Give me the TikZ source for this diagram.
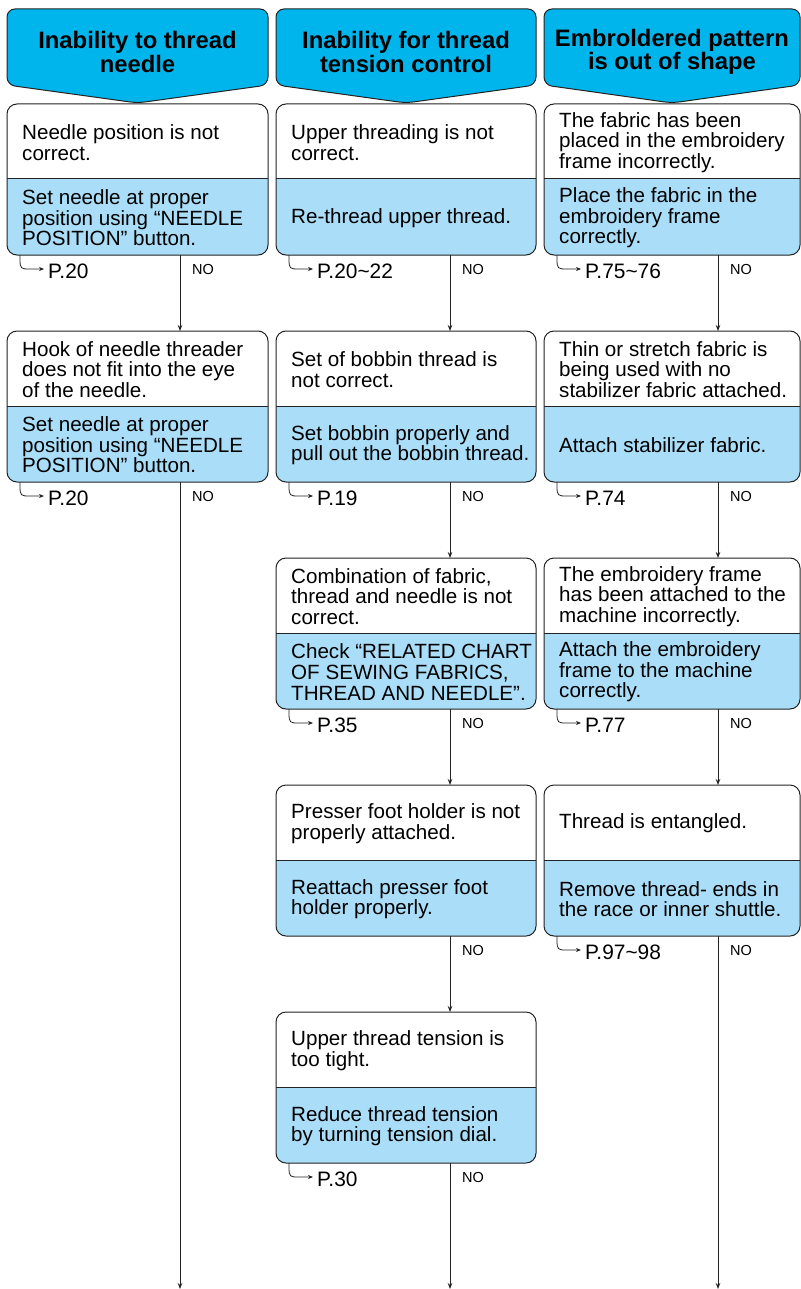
\documentclass[tikz,border=0pt]{standalone}
\usepackage{fontspec}
\setmainfont{Liberation Sans}
\usetikzlibrary{arrows.meta}
\definecolor{hdrcol}{RGB}{0,181,236}
\definecolor{solcol}{RGB}{170,222,248}
\definecolor{lncol}{RGB}{35,35,35}
\tikzset{
  boxline/.style={draw=lncol, line width=1pt},
  flowln/.style={draw=lncol, line width=0.9pt, -{Stealth[length=6pt,width=4.5pt]}},
  hookln/.style={draw=lncol, line width=0.8pt, -{Stealth[length=5pt,width=4pt]}},
  txt/.style={font=\fontsize{20.6}{20.6}\selectfont, align=left, inner sep=0pt, anchor=west},
  hdrtxt/.style={font=\bfseries\fontsize{23.8}{23.5}\selectfont, align=center, inner sep=0pt},
  ptxt/.style={font=\fontsize{20.9}{20.6}\selectfont, inner sep=0pt, anchor=west},
  notxt/.style={font=\fontsize{14.5}{14.5}\selectfont, inner sep=0pt, anchor=west},
}
% header: #1 name, #2 L, #3 R, #4 text
\newcommand\hdrbox[4]{%
  \pgfmathsetmacro\hbC{(#2+#3)/2}%
  \draw[boxline, fill=hdrcol, rounded corners=8pt] (#2,85) -- (#2,9) -- (#3,9) -- (#3,85) -- (\hbC,103) -- cycle;
  \node[hdrtxt] (#1) at (\hbC,52) {#4};
  \coordinate (#1-bot) at (\hbC,103);
}
% trouble box: #1 name, #2 L, #3 R, #4 cx, #5 T, #6 problem, #7 solution
\newcommand\trbox[7]{%
  \pgfmathsetmacro\tbD{#5+75}\pgfmathsetmacro\tbB{#5+151}%
  \pgfmathsetmacro\tbX{#2+15}%
  \pgfmathsetmacro\tbPy{#5+38.5}\pgfmathsetmacro\tbSy{#5+114}%
  \fill[white, rounded corners=10pt] (#2,#5) rectangle (#3,\tbB);
  \begin{scope}
    \clip (#2,\tbD) rectangle (#3,\tbB+2);
    \fill[solcol, rounded corners=10pt] (#2,#5) rectangle (#3,\tbB);
  \end{scope}
  \draw[boxline, rounded corners=10pt] (#2,#5) rectangle (#3,\tbB);
  \draw[boxline] (#2,\tbD) -- (#3,\tbD);
  \node[txt] (#1-p) at (\tbX,\tbPy) {#6};
  \node[txt] (#1-s) at (\tbX,\tbSy) {#7};
  \coordinate (#1-top) at (#4,#5);
  \coordinate (#1-bot) at (#4,\tbB);
  \pgfmathsetmacro\tbNx{#4+12}\pgfmathsetmacro\tbNy{\tbB+14.5}%
  \node[notxt] (#1-no) at (\tbNx,\tbNy) {NO};
}
% page reference: #1 name, #2 L, #3 B, #4 text
\newcommand\pgref[4]{%
  \pgfmathsetmacro\prX{#2+13}\pgfmathsetmacro\prY{#3+4}\pgfmathsetmacro\prYY{#3+14}%
  \pgfmathsetmacro\prXc{#2+14}%
  \pgfmathsetmacro\prXa{#2+23}\pgfmathsetmacro\prXb{#2+37}\pgfmathsetmacro\prXt{#2+41}\pgfmathsetmacro\prYt{#3+16}%
  \coordinate (#1-a) at (\prX,#3);
  \coordinate (#1-b) at (\prXb,\prYY);
  \draw[hookln] (#1-a) -- (\prX,\prY) .. controls (\prX,\prYY) and (\prXc,\prYY) .. (\prXa,\prYY) -- (#1-b);
  \node[ptxt] (#1) at (\prXt,\prYt) {#4};
}
\begin{document}
\begin{tikzpicture}[x=1pt,y=-1pt]
\useasboundingbox (0,0) rectangle (800,1289);
\fill[white] (0,0) rectangle (800,1289);

\hdrbox{h1}{7}{268}{Inability to thread\\needle}
\hdrbox{h2}{276}{536}{Inability for thread\\tension control}
\hdrbox{h3}{544}{800}{Embroldered pattern\\is out of shape}

% column 1
\trbox{a1}{7}{268}{180}{104}{Needle position is not\\correct.}{Set needle at proper\\position using “NEEDLE\\POSITION” button.}
\pgref{pa1}{7}{255}{P.20}
\trbox{a2}{7}{268}{180}{331}{Hook of needle threader\\does not fit into the eye\\of the needle.}{Set needle at proper\\position using “NEEDLE\\POSITION” button.}
\pgref{pa2}{7}{482}{P.20}

% column 2
\trbox{b1}{276}{536}{450}{104}{Upper threading is not\\correct.}{Re-thread upper thread.}
\pgref{pb1}{276}{255}{P.20\textasciitilde22}
\trbox{b2}{276}{536}{450}{331}{Set of bobbin thread is\\not correct.}{Set bobbin properly and\\pull out the bobbin thread.}
\pgref{pb2}{276}{482}{P.19}
\trbox{b3}{276}{536}{450}{558}{Combination of fabric,\\thread and needle is not\\correct.}{Check “RELATED CHART\\OF SEWING FABRICS,\\THREAD AND NEEDLE”.}
\pgref{pb3}{276}{709}{P.35}
\trbox{b4}{276}{536}{450}{785}{Presser foot holder is not\\properly attached.}{Reattach presser foot\\holder properly.}
\trbox{b5}{276}{536}{450}{1012}{Upper thread tension is\\too tight.}{Reduce thread tension\\by turning tension dial.}
\pgref{pb5}{276}{1163}{P.30}

% column 3
\trbox{c1}{544}{800}{718}{104}{The fabric has been\\placed in the embroidery\\frame incorrectly.}{Place the fabric in the\\embroidery frame\\correctly.}
\pgref{pc1}{544}{255}{P.75\textasciitilde76}
\trbox{c2}{544}{800}{718}{331}{Thin or stretch fabric is\\being used with no\\stabilizer fabric attached.}{Attach stabilizer fabric.}
\pgref{pc2}{544}{482}{P.74}
\trbox{c3}{544}{800}{718}{558}{The embroidery frame\\has been attached to the\\machine incorrectly.}{Attach the embroidery\\frame to the machine\\correctly.}
\pgref{pc3}{544}{709}{P.77}
\trbox{c4}{544}{800}{718}{785}{Thread is entangled.}{Remove thread- ends in\\the race or inner shuttle.}
\pgref{pc4}{544}{936}{P.97\textasciitilde98}

\coordinate (e1) at (180,1289);
\coordinate (e2) at (450,1289);
\coordinate (e3) at (718,1289);

\draw[flowln] (a1-bot) -- (a2-top);
\draw[flowln] (a2-bot) -- (e1);
\draw[flowln] (b1-bot) -- (b2-top);
\draw[flowln] (b2-bot) -- (b3-top);
\draw[flowln] (b3-bot) -- (b4-top);
\draw[flowln] (b4-bot) -- (b5-top);
\draw[flowln] (b5-bot) -- (e2);
\draw[flowln] (c1-bot) -- (c2-top);
\draw[flowln] (c2-bot) -- (c3-top);
\draw[flowln] (c3-bot) -- (c4-top);
\draw[flowln] (c4-bot) -- (e3);
\end{tikzpicture}
\end{document}
